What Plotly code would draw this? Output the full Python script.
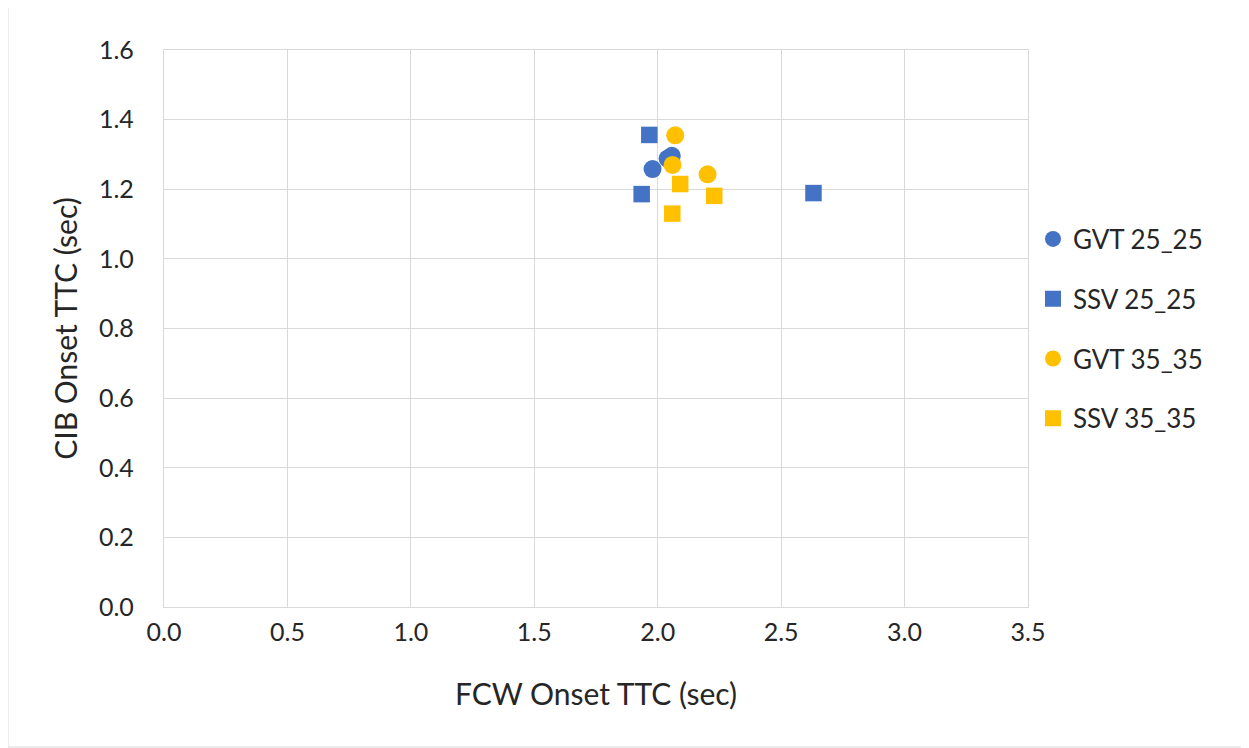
import plotly.graph_objects as go

series_names = ["GVT 25_25", "SSV 25_25", "GVT 35_35", "SSV 35_35"]
gvt25_x = [1.979, 2.040, 2.057]
gvt25_y = [1.258, 1.288, 1.296]
ssv25_x = [1.966, 1.935, 2.631]
ssv25_y = [1.356, 1.186, 1.189]
gvt35_x = [2.071, 2.060, 2.202]
gvt35_y = [1.355, 1.270, 1.243]
ssv35_x = [2.091, 2.229, 2.059]
ssv35_y = [1.215, 1.181, 1.130]

blue = "#4472C4"
gold = "#FFC000"

# page body has ~7px margin; compensate so the plot lands where the reference has it
OFF = 7
W, H = 1249 - 8, 748 - 8
L, T = 163 - OFF, 49 - OFF
pw, ph = 864, 557
R = W - L - pw
B = H - T - ph

fig = go.Figure()
data = [
    (gvt25_x, gvt25_y, "circle", blue, 18),
    (ssv25_x, ssv25_y, "square", blue, 16.5),
    (gvt35_x, gvt35_y, "circle", gold, 18),
    (ssv35_x, ssv35_y, "square", gold, 16.5),
]
for name, (xs, ys, sym, col, sz) in zip(series_names, data):
    fig.add_trace(go.Scatter(
        x=xs, y=ys, mode="markers", name=name, legendgroup=name,
        marker=dict(symbol=sym, color=col, size=sz, line=dict(width=0)),
    ))

font = "Lato, Open Sans, sans-serif"
txt = "#262626"
fig.update_layout(
    width=W, height=H,
    margin=dict(l=L, r=R, t=T, b=B),
    paper_bgcolor="white", plot_bgcolor="white",
    font=dict(family=font, color=txt),
    showlegend=True,
    legend=dict(
        x=(1032 - OFF - L) / pw, y=1 - (328 - OFF - T) / ph,
        xanchor="left", yanchor="middle",
        font=dict(size=26, color=txt, family=font),
        tracegroupgap=23, itemwidth=30,
        bgcolor="rgba(0,0,0,0)",
    ),
    xaxis=dict(
        range=[0, 3.5], dtick=0.5, tick0=0, tickformat=".1f",
        showgrid=True, gridcolor="#D9D9D9", gridwidth=1.3,
        showline=True, linecolor="#D9D9D9", linewidth=1.3, mirror=True,
        zeroline=False, ticks="", tickfont=dict(size=25, color=txt),
        ticklabelstandoff=3,
        title=dict(text="FCW Onset TTC (sec)", font=dict(size=30, color=txt), standoff=38),
    ),
    yaxis=dict(
        range=[0, 1.6], dtick=0.2, tick0=0, tickformat=".1f",
        showgrid=True, gridcolor="#D9D9D9", gridwidth=1.3,
        showline=True, linecolor="#D9D9D9", linewidth=1.3, mirror=True,
        zeroline=False, ticks="", tickfont=dict(size=25, color=txt),
        ticklabelstandoff=24,
        title=dict(text="CIB Onset TTC (sec)", font=dict(size=30, color=txt), standoff=12),
    ),
    shapes=[dict(
        type="rect", xref="paper", yref="paper",
        x0=(7 - OFF - L) / pw, x1=(1246 - OFF - L) / pw,
        y0=1 - (746 - OFF - T) / ph, y1=1 - (5 - OFF + 0.5 - T) / ph,
        line=dict(color="#D9D9D9", width=1), fillcolor="rgba(0,0,0,0)", layer="below",
    )],
)

fig.write_html("out.html")
